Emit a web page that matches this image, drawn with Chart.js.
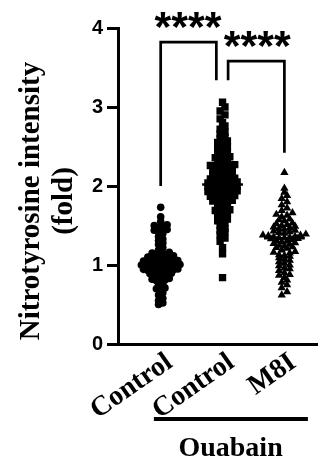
<!DOCTYPE html>
<html>
<head>
<meta charset="utf-8">
<script src="https://cdn.jsdelivr.net/npm/chart.js@4"></script>
<style>
  html, body { margin: 0; padding: 0; background: #fff; }
  canvas { display: block; }
</style>
</head>
<body>
<canvas id="myChart" width="323" height="463"></canvas>
<script>
// ---------------------------------------------- data ----------------------------------------------
const groups = ["Control", "Control", "M8I"];

const ctrlValues = [
    1.73, 1.61, 1.55, 1.51, 1.50, 1.48, 1.47, 1.45, 1.44, 1.43, 1.42, 1.40, 1.36,
    1.33, 1.31, 1.28, 1.26, 1.22, 1.19, 1.16, 1.15, 1.14, 1.13, 1.12, 1.115, 1.10,
    1.095, 1.09, 1.085, 1.08, 1.07, 1.055, 1.05, 1.045, 1.04, 1.035, 1.03, 1.025,
    1.02, 1.01, 1.005, 1.00, 0.995, 0.99, 0.98, 0.975, 0.97, 0.965, 0.96, 0.955,
    0.95, 0.945, 0.94, 0.93, 0.925, 0.92, 0.915, 0.91, 0.90, 0.895, 0.89, 0.88,
    0.875, 0.86, 0.85, 0.83, 0.82, 0.81, 0.80, 0.79, 0.76, 0.74, 0.71, 0.70, 0.68,
    0.65, 0.62, 0.58, 0.55, 0.52, 0.50
];
const ouabainValues = [
    3.06, 3.00, 2.95, 2.90, 2.85, 2.80, 2.76, 2.72, 2.68, 2.66, 2.62, 2.60, 2.57,
    2.55, 2.52, 2.50, 2.47, 2.45, 2.42, 2.40, 2.385, 2.37, 2.36, 2.35, 2.33, 2.31,
    2.30, 2.28, 2.27, 2.26, 2.25, 2.24, 2.23, 2.22, 2.20, 2.19, 2.18, 2.17, 2.16,
    2.155, 2.14, 2.13, 2.12, 2.11, 2.10, 2.09, 2.085, 2.07, 2.06, 2.055, 2.05, 2.04,
    2.035, 2.03, 2.02, 2.01, 2.00, 1.995, 1.99, 1.98, 1.97, 1.96, 1.955, 1.95, 1.94,
    1.93, 1.92, 1.915, 1.91, 1.90, 1.895, 1.88, 1.87, 1.865, 1.86, 1.84, 1.83, 1.82,
    1.81, 1.80, 1.79, 1.78, 1.76, 1.74, 1.72, 1.70, 1.69, 1.68, 1.67, 1.66, 1.63,
    1.61, 1.58, 1.56, 1.55, 1.53, 1.50, 1.46, 1.44, 1.42, 1.38, 1.34, 1.30, 1.22,
    1.14, 0.84
];
const m8iValues = [
    2.17, 1.97, 1.92, 1.88, 1.84, 1.80, 1.76, 1.72, 1.69, 1.66, 1.64, 1.63, 1.61,
    1.58, 1.57, 1.56, 1.53, 1.52, 1.51, 1.50, 1.49, 1.48, 1.47, 1.46, 1.45, 1.44,
    1.43, 1.42, 1.41, 1.40, 1.39, 1.38, 1.375, 1.37, 1.36, 1.355, 1.35, 1.345, 1.34,
    1.335, 1.33, 1.32, 1.31, 1.30, 1.29, 1.28, 1.27, 1.26, 1.25, 1.24, 1.23, 1.22,
    1.21, 1.19, 1.17, 1.16, 1.15, 1.13, 1.12, 1.11, 1.09, 1.07, 1.06, 1.04, 1.02,
    1.00, 0.99, 0.96, 0.95, 0.93, 0.90, 0.88, 0.87, 0.84, 0.81, 0.78, 0.75, 0.71,
    0.66, 0.62
];
const groupMeans = [1.00, 2.02, 1.34];

// significance brackets: [left x, right x, top y, left foot y, right foot y]
const brackets = [
    [1.00, 1.90, 3.82, 2.00, 3.34],
    [2.09, 3.00, 3.58, 3.34, 2.42]
];
const bracketLabels = ["****", "****"];
const starPos = [[1.44, 4.15], [2.56, 3.91]];

// ---------------------------------------------- layout helpers ----------------------------------------------
const xMin = 0.31, xMax = 3.54;
const plotW = 323 - 118;
const xPx = plotW / (xMax - xMin);

// prism-style scatter: points close in value share a row, rows are centred on the group
function rows(values, center, rowH, dx) {
    const idx = values.map((v, i) => i).sort((a, b) => values[a] - values[b]);
    const out = new Array(values.length);
    let k = 0;
    while (k < idx.length) {
        const start = values[idx[k]];
        const row = [];
        while (k < idx.length && values[idx[k]] - start < rowH) row.push(idx[k++]);
        const n = row.length;
        const slots = row
            .map((_, j) => (j - (n - 1) / 2) * dx)
            .sort((a, b) => Math.abs(a) - Math.abs(b) || a - b);
        row.forEach((i, j) => {
            out[i] = { x: center + slots[j] / xPx, y: values[i] };
        });
    }
    return out;
}

const meanSets = groupMeans.map((m, i) => ({
    type: "line",
    data: [{ x: i + 1 - 0.33, y: m }, { x: i + 1 + 0.33, y: m }],
    borderColor: "#000",
    borderWidth: 2.5,
    pointRadius: 0,
    order: -1,
}));

// ---------------------------------------------- annotations ----------------------------------------------
const annotations = {
    id: "annotations",
    afterDraw(chart) {
        const { ctx, scales: { x, y }, chartArea } = chart;
        ctx.save();
        ctx.strokeStyle = "#000";
        ctx.fillStyle = "#000";
        ctx.lineWidth = 2.7;
        brackets.forEach((b) => {
            ctx.beginPath();
            ctx.moveTo(x.getPixelForValue(b[0]), y.getPixelForValue(b[3]));
            ctx.lineTo(x.getPixelForValue(b[0]), y.getPixelForValue(b[2]));
            ctx.lineTo(x.getPixelForValue(b[1]), y.getPixelForValue(b[2]));
            ctx.lineTo(x.getPixelForValue(b[1]), y.getPixelForValue(b[4]));
            ctx.stroke();
        });

        ctx.font = "bold 43px 'Liberation Sans'";
        ctx.textAlign = "center";
        ctx.textBaseline = "alphabetic";
        starPos.forEach((p, i) => {
            ctx.fillText(bracketLabels[i], x.getPixelForValue(p[0]), y.getPixelForValue(p[1]) + 0.58 * 43);
        });

        // Ouabain group bar
        const bY = chartArea.bottom + 75;
        ctx.fillRect(x.getPixelForValue(0.89), bY - 2, x.getPixelForValue(3.38) - x.getPixelForValue(0.89), 4);
        ctx.font = "bold 28px 'Liberation Serif'";
        ctx.fillText("Ouabain", x.getPixelForValue(2.13), chartArea.bottom + 112);

        // y title
        ctx.translate(32, 201);
        ctx.rotate(-Math.PI / 2);
        ctx.font = "bold 29px 'Liberation Serif'";
        ctx.textBaseline = "middle";
        ctx.fillText("Nitrotyrosine intensity", 0, 0);
        ctx.fillText("(fold)", 0, 33);
        ctx.restore();
    },
};

// ---------------------------------------------- chart ----------------------------------------------
Chart.defaults.font.family = "'Liberation Sans'";
Chart.defaults.color = "#000";

const config = {
    type: "scatter",
    data: {
        datasets: [
            {
                data: rows(ctrlValues, 1, 0.05, 4.4),
                pointStyle: "circle",
                pointRadius: 3.8,
                backgroundColor: "#000",
                borderColor: "#000",
                borderWidth: 0,
            },
            {
                data: rows(ouabainValues, 2, 0.05, 5.0),
                pointStyle: "rect",
                pointRadius: 5.2,
                backgroundColor: "#000",
                borderColor: "#000",
                borderWidth: 0,
            },
            {
                data: rows(m8iValues, 3, 0.05, 5.5),
                pointStyle: "triangle",
                pointRadius: 4.8,
                backgroundColor: "#000",
                borderColor: "#000",
                borderWidth: 0,
            },
            ...meanSets,
        ],
    },
    options: {
        responsive: false,
        animation: false,
        layout: { padding: { top: 28, right: 0, bottom: 0, left: 0 } },
        plugins: {
            legend: { display: false },
            tooltip: { enabled: false },
        },
        scales: {
            x: {
                type: "linear",
                min: xMin,
                max: xMax,
                afterBuildTicks: (scale) => {
                    scale.ticks = [1, 2, 3].map((v) => ({ value: v }));
                },
                afterFit: (scale) => {
                    scale.height = 119;
                },
                ticks: {
                    autoSkip: false,
                    minRotation: 35,
                    maxRotation: 35,
                    padding: 2,
                    labelOffset: 9,
                    font: { family: "'Liberation Serif'", weight: "bold", size: 28 },
                    callback: (value, index) => groups[index],
                },
                grid: { display: false, drawTicks: false },
                border: { display: true, color: "#000", width: 3 },
            },
            y: {
                min: 0,
                max: 4,
                afterFit: (scale) => {
                    scale.width = 118;
                },
                ticks: {
                    stepSize: 1,
                    padding: 4,
                    font: { weight: "bold", size: 20 },
                },
                grid: {
                    drawOnChartArea: false,
                    drawTicks: true,
                    tickLength: 11,
                    lineWidth: 3,
                    color: "#000",
                },
                border: { display: true, color: "#000", width: 3 },
            },
        },
    },
    plugins: [annotations],
};

const myChart = new Chart(document.getElementById("myChart").getContext("2d"), config);
</script>
</body>
</html>
